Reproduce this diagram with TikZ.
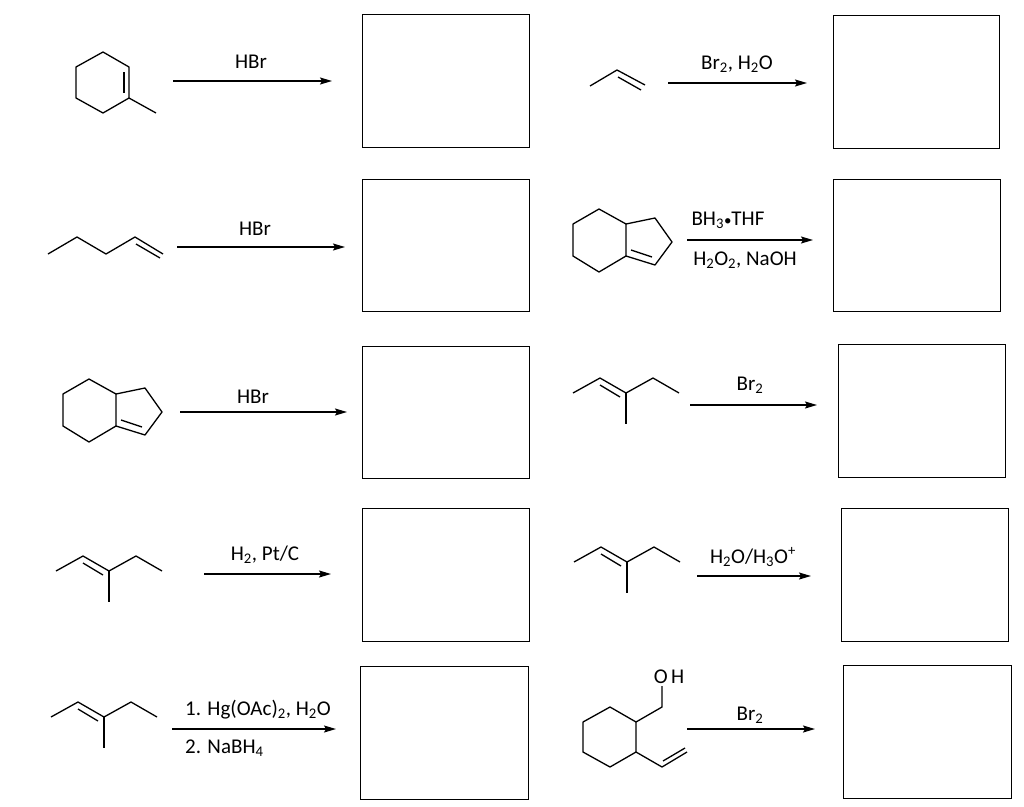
\documentclass[tikz,border=0pt]{standalone}
\usepackage{fontspec}
\setmainfont{Carlito}
\usetikzlibrary{arrows.meta}
\begin{document}
\begin{tikzpicture}[x=1pt,y=-1pt,
  bond/.style={line width=1.3pt,line join=round},
  box/.style={draw,line width=1.3pt},
  rxn/.style={line width=1.3pt,-{Stealth[length=12pt,width=7pt,inset=2pt]}},
  lab/.style={inner sep=1pt,font=\fontsize{21}{24}\selectfont}]
\useasboundingbox (0,0) rectangle (1024,806);
% boxes
\node[box,minimum width=167pt,minimum height=133pt,anchor=north west] (b1) at (362,14) {};
\node[box,minimum width=166pt,minimum height=133pt,anchor=north west] (b2) at (833,15) {};
\node[box,minimum width=167pt,minimum height=132pt,anchor=north west] (b3) at (362,179) {};
\node[box,minimum width=167pt,minimum height=132pt,anchor=north west] (b4) at (833,179) {};
\node[box,minimum width=167pt,minimum height=132pt,anchor=north west] (b5) at (362,346) {};
\node[box,minimum width=167pt,minimum height=133pt,anchor=north west] (b6) at (838,344) {};
\node[box,minimum width=167pt,minimum height=133pt,anchor=north west] (b7) at (362,508) {};
\node[box,minimum width=167pt,minimum height=133pt,anchor=north west] (b8) at (841,508) {};
\node[box,minimum width=168pt,minimum height=133pt,anchor=north west] (b9) at (360,666) {};
\node[box,minimum width=168pt,minimum height=133pt,anchor=north west] (b10) at (843,665) {};
% arrows
\coordinate (a1s) at (173,81); \coordinate (a1e) at (332,81);
\draw[rxn] (a1s) -- (a1e); \node[lab] (t1) at (251,62) {HBr};
\coordinate (a2s) at (668,83); \coordinate (a2e) at (807,83);
\draw[rxn] (a2s) -- (a2e); \node[lab] (t2) at (737,64) {Br\textsubscript{2}, H\textsubscript{2}O};
\coordinate (a3s) at (177,247); \coordinate (a3e) at (345,247);
\draw[rxn] (a3s) -- (a3e); \node[lab] (t3) at (255,229) {HBr};
\coordinate (a4s) at (687,240); \coordinate (a4e) at (813,240);
\draw[rxn] (a4s) -- (a4e); \node[lab] (t4) at (728,220) {BH\textsubscript{3}{\fontsize{15}{15}\selectfont\textbullet}THF};
\node[lab] (t4b) at (745,260) {H\textsubscript{2}O\textsubscript{2}, NaOH};
\coordinate (a5s) at (180,412); \coordinate (a5e) at (347,412);
\draw[rxn] (a5s) -- (a5e); \node[lab] (t5) at (253,397) {HBr};
\coordinate (a6s) at (690,405); \coordinate (a6e) at (817,405);
\draw[rxn] (a6s) -- (a6e); \node[lab] (t6) at (750,385) {Br\textsubscript{2}};
\coordinate (a7s) at (204,574); \coordinate (a7e) at (331,574);
\draw[rxn] (a7s) -- (a7e); \node[lab] (t7) at (265,555) {H\textsubscript{2}, Pt/C};
\coordinate (a8s) at (697,576); \coordinate (a8e) at (811,576);
\draw[rxn] (a8s) -- (a8e); \node[lab] (t8) at (753,557) {H\textsubscript{2}O/H\textsubscript{3}O\textsuperscript{+}};
\coordinate (a9s) at (172,729); \coordinate (a9e) at (336,729);
\draw[rxn] (a9s) -- (a9e);
\node[lab,anchor=west] (t9) at (184,710) {1. Hg(OAc)\textsubscript{2}, H\textsubscript{2}O};
\node[lab,anchor=west] (t9b) at (184,748) {2. NaBH\textsubscript{4}};
\coordinate (a10s) at (687,729); \coordinate (a10e) at (815,729);
\draw[rxn] (a10s) -- (a10e); \node[lab] (t10) at (750,715) {Br\textsubscript{2}};
% 1-methylcyclohexene
\draw[bond] (103,52)--(129,67)--(129,98)--(103,113)--(76,98)--(76,67)--cycle;
\draw[bond] (129,98)--(156,113);
\draw[bond] (124,72)--(124,93);
% propene
\draw[bond] (590,86)--(617,70)--(645,85);
\draw[bond] (618,77)--(641,90);
% 1-pentene
\draw[bond] (48,254)--(77,237)--(106,254)--(135,237)--(163,254);
\draw[bond] (136,244)--(160,258);
% bicyclics
\foreach \dx/\dy in {0/0,510/-170}{
 \begin{scope}[shift={(\dx,\dy)}]
 \draw[bond] (89,379)--(116,394)--(116,426)--(89,442)--(63,426)--(63,394)--cycle;
 \draw[bond] (116,394)--(145,388)--(162,412)--(145,435)--(116,426);
 \draw[bond] (121,420)--(142,427);
 \end{scope}}
% 3-methyl-2-pentenes
\foreach \dx/\dy in {0/0,-517/178,-522/324,1/169}{
 \begin{scope}[shift={(\dx,\dy)}]
 \draw[bond] (573,393)--(600,378)--(626,393)--(653,378)--(679,393);
 \draw[bond] (626,393)--(626,424);
 \draw[bond] (600,385)--(620,397);
 \end{scope}}
% OH compound
\draw[bond] (610,707)--(636,722)--(636,752)--(610,767)--(583,752)--(583,722)--cycle;
\draw[bond] (636,722)--(662,707)--(662,686);
\draw[bond] (636,752)--(662,767)--(687,752);
\draw[bond] (663,761)--(685,748);
\node[lab,font=\fontsize{21}{24}\selectfont] (oh) at (669,677) {O\,H};
\end{tikzpicture}
\end{document}
